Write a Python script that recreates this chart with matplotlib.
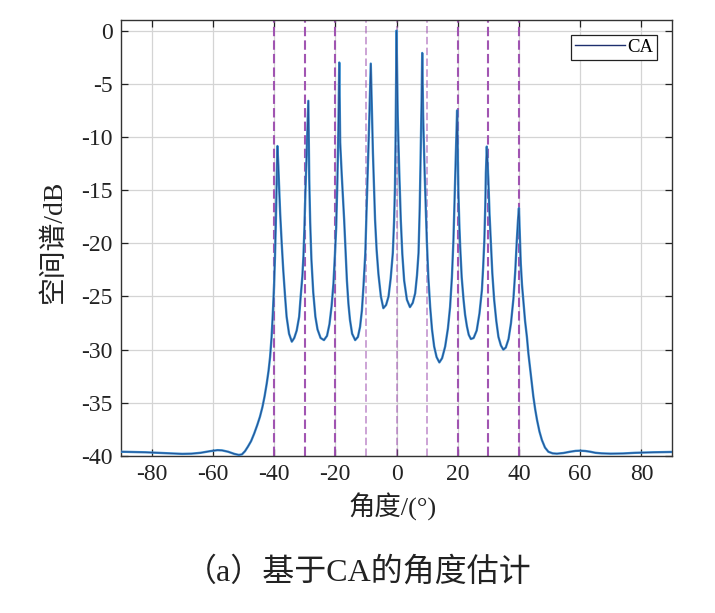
import matplotlib
matplotlib.use("Agg")
import matplotlib.pyplot as plt

plt.rcParams["axes.unicode_minus"] = False
plt.rcParams["font.family"] = ["Liberation Serif", "Noto Sans CJK SC"]

# spectrum (angle in deg, level in dB)
angle = [
    # left tail
    -90, -86, -82, -78, -74, -70, -67, -64, -61, -58.5, -57, -55, -53, -51.5, -50.5,
    -49.5, -48.5, -47.5, -46.5, -45.5, -44.6, -43.8, -43.1, -42.4, -41.8, -41.3, -40.8,
    -40.4, -40.0, -39.7, -39.45, -39.25, -39.05, -38.9,
    # lobe 1
    -38.6, -38.4, -38.0, -37.5, -37.0, -36.4, -35.9, -35.1, -34.2, -33.4, -32.6, -31.8,
    -31.3, -30.75, -30.4, -30.1, -29.8, -29.45, -29.1, -28.8,
    # lobe 2
    -28.5, -28.2, -27.8, -27.2, -26.5, -25.8, -24.8, -23.7, -22.7, -21.9, -21.2, -20.6,
    -20.1, -19.7, -19.3, -19.0, -18.7,
    # lobe 3
    -18.4, -17.9, -17.5, -17.1, -16.6, -16.2, -15.7, -15.2, -14.5, -13.5, -12.6, -11.9,
    -11.3, -10.8, -10.2, -9.7, -9.3, -8.9, -8.4,
    # lobe 4
    -7.7, -7.3, -7.0, -6.5, -5.9, -5.1, -4.3, -3.4, -2.6, -1.9, -1.2, -0.8, -0.5, -0.25, 0.0,
    # lobe 5
    0.4, 0.85, 1.4, 1.9, 2.5, 3.4, 4.4, 5.3, 6.1, 6.7, 7.2, 7.6, 7.9, 8.2, 8.4,
    # lobe 6
    8.7, 9.2, 9.9, 10.4, 11.0, 11.6, 12.3, 13.1, 14.0, 14.9, 15.9, 16.8, 17.5, 18.1,
    18.6, 19.2, 19.5, 19.8,
    # lobe 7
    20.2, 20.5, 20.8, 21.3, 21.9, 22.4, 23.0, 23.6, 24.3, 25.2, 26.2, 27.1, 27.9, 28.3,
    28.7, 29.0, 29.2, 29.5,
    # lobe 8
    30.0, 30.4, 30.8, 31.3, 31.9, 32.6, 33.3, 34.1, 34.9, 35.7, 36.6, 37.4, 38.2, 38.8,
    39.3, 39.7, 40.0,
    # right tail
    40.3, 40.6, 41.0, 41.5, 42.0, 42.6, 43.1, 43.7, 44.2, 44.7, 45.3, 45.9, 46.7, 47.5,
    48.5, 49.6, 51.0, 52.4, 54.5, 56.7, 58.5, 60.0, 61.7, 63.3, 65, 67, 70, 74, 78, 84, 90,
]
level = [
    -39.6, -39.62, -39.65, -39.7, -39.76, -39.8, -39.78, -39.7, -39.55, -39.45, -39.47, -39.6, -39.8, -39.9, -39.85,
    -39.55, -39.1, -38.6, -37.9, -37.1, -36.3, -35.4, -34.4, -33.2, -32.0, -30.7, -28.8,
    -26.6, -24.0, -21.3, -18.5, -15.6, -13.0, -10.85,
    -12.7, -14.3, -17.2, -20.0, -22.5, -25.0, -26.9, -28.5, -29.25, -28.9, -28.2, -26.9,
    -25.0, -23.1, -21.2, -18.75, -15.6, -12.5, -9.5, -6.6,
    -14.0, -18.0, -21.5, -24.6, -26.9, -28.1, -28.9, -29.1, -28.7, -27.6, -25.9, -23.8,
    -21.0, -18.5, -14.0, -9.5, -3.0,
    -10.5, -13.5, -15.6, -17.8, -21.0, -23.5, -25.7, -27.2, -28.5, -29.1, -28.8, -27.85,
    -26.3, -24.1, -21.0, -16.2, -12.5, -8.4, -3.1,
    -11.5, -15.0, -17.8, -20.6, -22.9, -25.0, -26.1, -25.8, -25.0, -23.3, -20.9, -18.0, -14.7, -9.0, 0.0,
    -8.0, -12.8, -17.8, -21.0, -23.5, -25.3, -26.0, -25.6, -24.7, -23.0, -20.9, -16.5, -11.5, -6.5, -2.1,
    -8.0, -13.4, -19.7, -23.2, -26.0, -28.1, -29.7, -30.7, -31.2, -30.8, -29.7, -28.0, -26.0, -23.2,
    -19.7, -13.4, -10.5, -7.5,
    -15.0, -18.0, -20.3, -23.2, -25.3, -26.7, -27.8, -28.6, -29.0, -28.9, -28.2, -26.6, -24.4, -22.3,
    -19.7, -16.5, -13.4, -10.9,
    -14.0, -17.3, -19.7, -22.8, -25.3, -27.3, -28.8, -29.6, -30.0, -29.8, -29.0, -27.5, -25.2, -22.6,
    -19.75, -17.8, -16.7,
    -19.3, -21.9, -23.9, -25.6, -27.3, -28.8, -30.4, -31.9, -33.2, -34.4, -35.6, -36.6, -37.7, -38.5,
    -39.2, -39.6, -39.75, -39.78, -39.72, -39.6, -39.52, -39.5, -39.53, -39.6, -39.7, -39.75, -39.78, -39.76, -39.7, -39.65, -39.62,
]

# true source directions (dashed markers)
true_angles = [-40, -30, -20, -10, 0, 10, 20, 30, 40]
faint_angles = [-10, 0, 10]

xticks = [-80, -60, -40, -20, 0, 20, 40, 60, 80]
yticks = [0, -5, -10, -15, -20, -25, -30, -35, -40]

fig = plt.figure(figsize=(7.15, 6.13), dpi=100)
ax = fig.add_axes([121 / 715, 157 / 613, 551 / 715, 436 / 613])

for a in true_angles:
    faint = a in faint_angles
    ax.axvline(a, color="#9c4cae", lw=1.2 if faint else 1.5, alpha=0.6 if faint else 0.95,
               linestyle=(0, (4.5, 2)), zorder=2)

ax.plot(angle, level, color="#3b8fd0", lw=1.7, zorder=3)
ax.plot(angle, level, color="#1d3c7c", lw=0.7, alpha=0.75, zorder=4)
ax.plot([], [], color="#1d2f6e", lw=1.0, label="CA")

ax.set_xlim(-90, 90)
ax.set_ylim(-40, 1)
ax.set_xticks(xticks)
ax.set_yticks(yticks)
ax.set_xticklabels([str(t) for t in xticks])
ax.set_yticklabels([str(t) for t in yticks])
ax.tick_params(direction="in", length=5, width=0.9, top=True, right=True,
               labelsize=17, pad=6, colors="#222222")
ax.grid(True, color="#d4d4d4", lw=0.9)
ax.set_axisbelow(True)
for s in ax.spines.values():
    s.set_color("#333333")
    s.set_linewidth(1.0)

leg = ax.legend(loc="upper right", fontsize=13.5, handlelength=2.7, handletextpad=0.1,
                borderpad=0.2, borderaxespad=0.8, fancybox=False, framealpha=1)
leg.get_frame().set_edgecolor("#222222")
leg.get_frame().set_linewidth(0.9)

fig.text(54 / 715, 1 - 241 / 613, "空间谱/dB", rotation=90, ha="center", va="center",
         fontsize=20, color="#222222")
fig.text(393 / 715, 1 - 507 / 613, "角度/(°)", ha="center", va="center",
         fontsize=19, color="#222222")
fig.text(358 / 715, 1 - 572 / 613, "（a）基于CA的角度估计", ha="center", va="center",
         fontsize=23, color="#222222")

fig.savefig("out.png", dpi=100, facecolor="white")
